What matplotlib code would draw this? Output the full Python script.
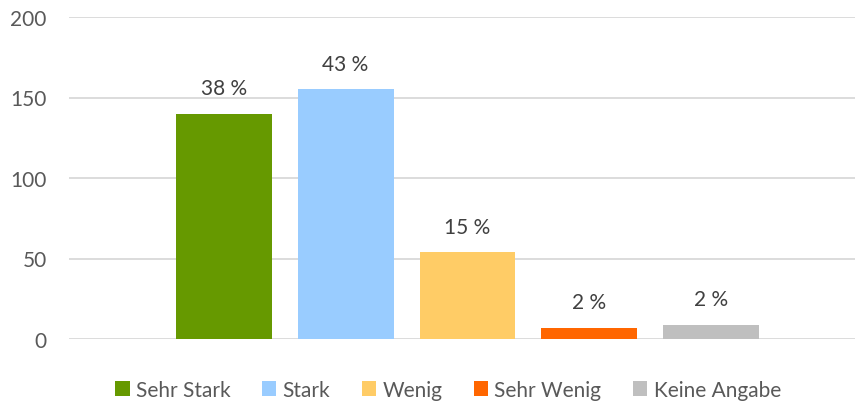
import matplotlib.pyplot as plt
from matplotlib.patches import Patch

categories = ["Sehr Stark", "Stark", "Wenig", "Sehr Wenig", "Keine Angabe"]
counts = [140, 155, 54, 7, 9]
pct_labels = ["38 %", "43 %", "15 %", "2 %", "2 %"]
colors = ["#669900", "#99CCFF", "#FFCC66", "#FF6600", "#BFBFBF"]

plt.rcParams['font.family'] = ['Lato', 'DejaVu Sans']
txt = '#595959'

fig = plt.figure(figsize=(8.56, 4.06), dpi=100)
ax = fig.add_axes([69 / 856, 1 - 340 / 406, 786 / 856, 322 / 406])

x = list(range(len(categories)))
ax.bar(x, counts, width=96 / 122, color=colors, zorder=2)
for xi, c, lab in zip(x, counts, pct_labels):
    ax.annotate(lab, (xi, c), xytext=(0, 11), textcoords='offset points',
                ha='center', va='bottom', fontsize=15, color='#404040')

ax.set_xlim(-1.27, 5.18)
ax.set_ylim(0, 200)
ax.set_yticks([0, 50, 100, 150, 200])
ax.set_xticks([])
ax.yaxis.grid(True, color='#D9D9D9', linewidth=1.3, zorder=0)
ax.tick_params(axis='y', length=0, pad=16, labelsize=15, labelcolor=txt)
for s in ax.spines.values():
    s.set_visible(False)

handles = [Patch(facecolor=c, label=n) for c, n in zip(colors, categories)]
fig.legend(handles=handles, loc='center', bbox_to_anchor=(448 / 856, 1 - 391 / 406),
           ncol=5, frameon=False, fontsize=15, labelcolor=txt,
           handlelength=0.7, handleheight=0.7, handletextpad=0.3,
           columnspacing=1.5)

fig.savefig('out.png', dpi=100)
